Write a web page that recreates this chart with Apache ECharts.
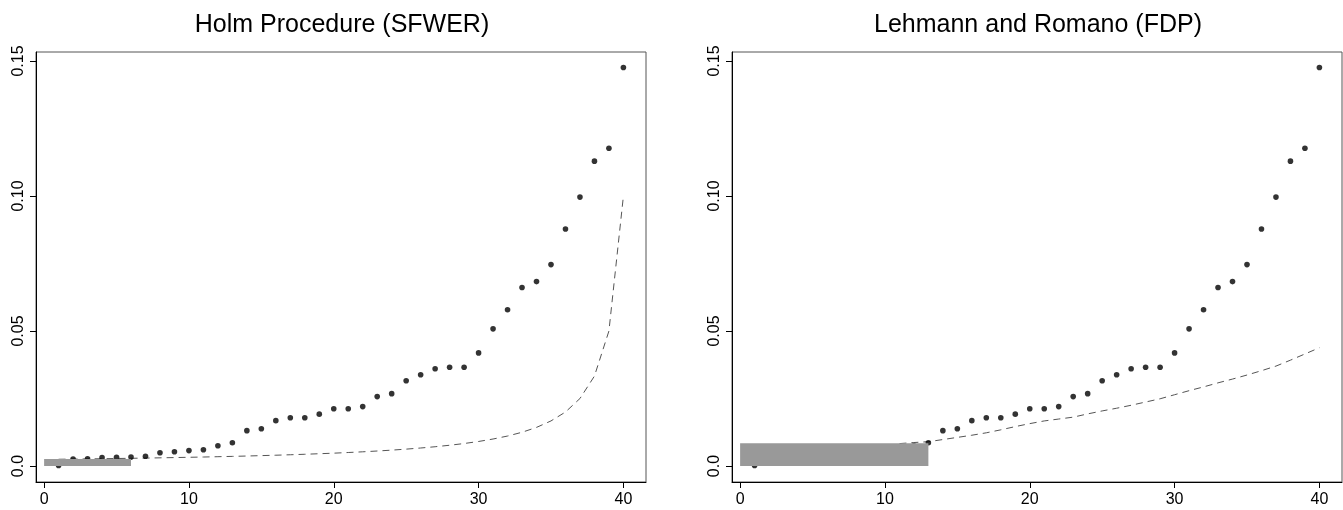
<!DOCTYPE html>
<html>
<head>
<meta charset="utf-8">
<script src="https://cdn.jsdelivr.net/npm/echarts@6/dist/echarts.min.js"></script>
<style>
html,body{margin:0;padding:0;background:#fff;}
#chart{width:1343px;height:510px;}
</style>
</head>
<body>
<div id="chart"></div>
<script>
// ---- data ----
const ranks = [1,2,3,4,5,6,7,8,9,10,11,12,13,14,15,16,17,18,19,20,21,22,23,24,25,26,27,28,29,30,31,32,33,34,35,36,37,38,39,40];
const pValues = [0.0002,0.0026,0.0027,0.0031,0.0032,0.0033,0.0036,0.0049,0.0053,0.0057,
                 0.0060,0.0075,0.0086,0.0131,0.0138,0.0168,0.0179,0.0179,0.0192,0.0212,
                 0.0212,0.0220,0.0257,0.0268,0.0316,0.0338,0.0360,0.0366,0.0366,0.0419,
                 0.0508,0.0579,0.0661,0.0683,0.0746,0.0878,0.0996,0.1129,0.1177,0.1476];
const holmThreshold = [0.0025,0.00256,0.00263,0.0027,0.00278,0.00286,0.00294,0.00303,0.00313,0.00323,
                       0.00333,0.00345,0.00357,0.0037,0.00385,0.004,0.00417,0.00435,0.00455,0.00476,
                       0.005,0.00526,0.00556,0.00588,0.00625,0.00667,0.00714,0.00769,0.00833,0.00909,
                       0.01,0.0111,0.0125,0.0143,0.0167,0.02,0.025,0.0333,0.05,0.1];
const lrRanks = [11,12,13,14,15,16,17,18,19,20,21,22,23,24,25,26,27,28,29,30,31,32,33,34,35,36,37,38,39,40];
const lrThreshold = [0.0083,0.0087,0.0090,0.0098,0.0106,0.0114,0.0123,0.0134,0.0146,0.0157,
                     0.0167,0.0174,0.0181,0.0193,0.0204,0.0214,0.0225,0.0237,0.0249,0.0264,
                     0.0279,0.0293,0.0308,0.0322,0.0337,0.0353,0.0370,0.0392,0.0415,0.0438];
const holmRejected = [0, 6, 0, 0.0026];   // x0, x1, y0, y1
const lrRejected = [0, 13, 0, 0.0084];
const titles = ['Holm Procedure (SFWER)', 'Lehmann and Romano (FDP)'];
const xTicks = [0, 10, 20, 30, 40];
const yTicks = [0, 0.05, 0.10, 0.15];

// ---- chart ----
const FONT = "'Liberation Sans', Arial, Helvetica, sans-serif";
const chart = echarts.init(document.getElementById('chart'), null, {renderer: 'canvas'});

const grids = [
  {left: 36, top: 52, width: 610, height: 430},
  {left: 732, top: 52, width: 610, height: 430}
];

function xAxisFor(i) {
  return {
    type: 'value', gridIndex: i, min: -0.56, max: 41.56,
    splitLine: {show: false},
    axisLine: {show: true, onZero: false, lineStyle: {color: '#000', width: 1}},
    axisTick: {show: true, inside: false, length: 6, customValues: xTicks, lineStyle: {color: '#000'}},
    axisLabel: {show: true, customValues: xTicks, margin: 10, fontSize: 16, color: '#000', fontFamily: FONT,
                formatter: v => String(v)}
  };
}
function yAxisFor(i) {
  return {
    type: 'value', gridIndex: i, min: -0.00592, max: 0.15333,
    splitLine: {show: false},
    axisLine: {show: true, onZero: false, lineStyle: {color: '#000', width: 1}},
    axisTick: {show: true, inside: false, length: 6, customValues: yTicks, lineStyle: {color: '#000'}},
    axisLabel: {show: true, customValues: yTicks, rotate: 90, margin: 9, fontSize: 16, color: '#000', fontFamily: FONT,
                formatter: v => (v === 0 ? '0.0' : v.toFixed(2))}
  };
}

function rectSeries(i, r) {
  return {
    type: 'custom', xAxisIndex: i, yAxisIndex: i, z: 5, silent: true,
    data: [r],
    renderItem: function (params, api) {
      const p0 = api.coord([api.value(0), api.value(3)]);
      const p1 = api.coord([api.value(1), api.value(2)]);
      return {type: 'rect', shape: {x: p0[0], y: p0[1], width: p1[0] - p0[0], height: p1[1] - p0[1]},
              style: {fill: '#999999'}};
    },
    encode: {x: [0, 1], y: [2, 3]}
  };
}

const dash = {color: '#555', width: 1, type: [7, 5]};

const option = {
  backgroundColor: '#fff',
  animation: false,
  title: titles.map((t, i) => ({
    text: t, left: i === 0 ? 337 : 1033, top: 8, textAlign: 'center',
    textStyle: {fontSize: 25, fontWeight: 'normal', color: '#000', fontFamily: FONT}
  })),
  grid: grids.map(g => Object.assign({show: true, borderColor: '#555', borderWidth: 1, backgroundColor: 'transparent'}, g)),
  xAxis: [xAxisFor(0), xAxisFor(1)],
  yAxis: [yAxisFor(0), yAxisFor(1)],
  series: [
    {type: 'line', xAxisIndex: 0, yAxisIndex: 0, data: ranks.map((r, k) => [r, holmThreshold[k]]),
     symbol: 'none', lineStyle: dash, z: 2, silent: true},
    {type: 'scatter', xAxisIndex: 0, yAxisIndex: 0, data: ranks.map((r, k) => [r, pValues[k]]),
     symbol: 'circle', symbolSize: 5.6, itemStyle: {color: '#000'}, z: 3, silent: true},
    rectSeries(0, holmRejected),
    {type: 'line', xAxisIndex: 1, yAxisIndex: 1, data: lrRanks.map((r, k) => [r, lrThreshold[k]]),
     symbol: 'none', lineStyle: dash, z: 2, silent: true},
    {type: 'scatter', xAxisIndex: 1, yAxisIndex: 1, data: ranks.map((r, k) => [r, pValues[k]]),
     symbol: 'circle', symbolSize: 5.6, itemStyle: {color: '#000'}, z: 3, silent: true},
    rectSeries(1, lrRejected)
  ]
};
chart.setOption(option);
</script>
</body>
</html>
